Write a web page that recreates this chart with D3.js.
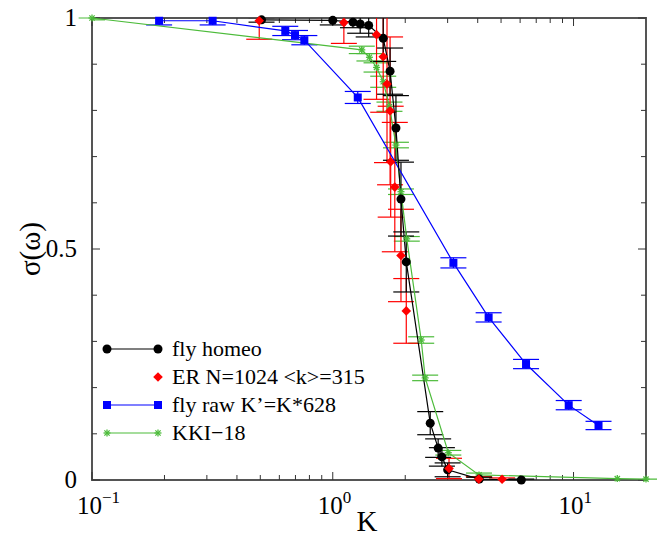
<!DOCTYPE html>
<html>
<head>
<meta charset="utf-8">
<script src="https://cdn.jsdelivr.net/npm/d3@7"></script>
<style>
  html, body { margin: 0; padding: 0; background: #fff; }
  svg text { font-family: "Times New Roman", Times, "Liberation Serif", "Nimbus Roman", "Noto Serif", "DejaVu Serif", FreeSerif, serif; }
</style>
</head>
<body>
<svg id="chart" width="657" height="538"></svg>
<script>
// ---- data ----
// fly homeo
const homeoK   = [0.506, 1.0, 1.213, 1.30, 1.41, 1.62, 1.73, 1.83, 1.92, 2.02, 2.54, 2.74, 2.84, 3.0, 4.06, 6.07];
const homeoS   = [0.996, 0.995, 0.991, 0.987, 0.984, 0.956, 0.885, 0.762, 0.608, 0.472, 0.123, 0.069, 0.05, 0.022, 0.002, 0.0];
const homeoErr = [0.005, 0.01, 0.012, 0.02, 0.025, 0.05, 0.05, 0.07, 0.08, 0.065, 0.025, 0.02, 0.02, 0.015, 0.004, 0.002];

// ER N=1024 <k>=315
const erK   = [0.495, 1.112, 1.52, 1.62, 1.68, 1.73, 1.74, 1.81, 1.92, 2.02, 3.04, 4.04, 5.05];
const erS   = [0.994, 0.99, 0.964, 0.916, 0.857, 0.799, 0.689, 0.634, 0.486, 0.366, 0.025, 0.002, 0.0015];
const erErr = [0.04, 0.045, 0.14, 0.12, 0.17, 0.16, 0.12, 0.14, 0.1, 0.07, 0.022, 0.005, 0.003];

// fly raw K'=K*628
const rawK   = [0.19, 0.317, 0.635, 0.697, 0.762, 1.27, 3.17, 4.44, 6.35, 9.55, 12.7];
const rawS   = [0.994, 0.994, 0.972, 0.963, 0.952, 0.828, 0.47, 0.352, 0.251, 0.162, 0.118];
const rawErr = [0.009, 0.009, 0.01, 0.01, 0.01, 0.013, 0.011, 0.01, 0.01, 0.01, 0.009];

// KKI-18
const kkiK   = [0.088, 0.1, 1.32, 1.42, 1.52, 1.62, 1.72, 1.83, 1.92, 2.03, 2.33, 2.42, 3.02, 4.05, 15.2, 20, 23];
const kkiS   = [1.0, 1.0, 0.931, 0.915, 0.893, 0.862, 0.808, 0.725, 0.624, 0.522, 0.303, 0.221, 0.059, 0.011, 0.003, 0.002, 0.002];
const kkiErr = [0, 0.004, 0.008, 0.008, 0.01, 0.012, 0.01, 0.006, 0.006, 0.005, 0.007, 0.006, 0.005, 0.004, 0, 0, 0];

// axes
const xDomain = [0.1, 20];
const yDomain = [0, 1];
const xMajor = [0.1, 1, 10];
const xMajorExp = ["\u22121", "0", "1"];
const yMajor = [0, 0.5, 1];
const yMajorLabels = ["0", "0.5", "1"];

const legendLabels = ["fly homeo", "ER N=1024 <k>=315", "fly raw K\u2019=K*628", "KKI\u221218"];

// ---- layout ----
const L = 92, R = 646, T = 18, B = 480;
const svg = d3.select("#chart");
const x = d3.scaleLog().domain(xDomain).range([L, R]);
const y = d3.scaleLinear().domain(yDomain).range([B, T]);

const BLACK = "#000000", RED = "#ff0000", BLUE = "#0000ff", GREEN = "#4cbb3a";
const zip = (ks, ss, es) => ks.map((k, i) => ({k, s: ss[i], e: es[i]}));

const homeo = zip(homeoK, homeoS, homeoErr);
const er = zip(erK, erS, erErr);
const raw = zip(rawK, rawS, rawErr);
const kki = zip(kkiK, kkiS, kkiErr);

const defs = svg.append("defs");
defs.append("clipPath").attr("id", "plotClip")
  .append("rect").attr("x", L).attr("y", T).attr("width", R - L).attr("height", B - T);
defs.append("clipPath").attr("id", "markClip")
  .append("rect").attr("x", L - 5).attr("y", 0).attr("width", R - L + 10).attr("height", 538);

// ---- frame & ticks ----
const frame = svg.append("g").attr("stroke", "#555").attr("fill", "none");
frame.append("rect").attr("x", L).attr("y", T).attr("width", R - L).attr("height", B - T)
  .attr("stroke-width", 2);

const xMinor = [];
for (let d = 0.1; d < 20; d *= 10) for (let m = 2; m <= 9; m++) if (d * m < 20) xMinor.push(d * m);
const tickG = svg.append("g").attr("stroke", "#333").attr("stroke-width", 1);
xMajor.forEach(v => {
  tickG.append("line").attr("x1", x(v)).attr("x2", x(v)).attr("y1", B).attr("y2", B - 8);
  tickG.append("line").attr("x1", x(v)).attr("x2", x(v)).attr("y1", T).attr("y2", T + 8);
});
xMinor.forEach(v => {
  tickG.append("line").attr("x1", x(v)).attr("x2", x(v)).attr("y1", B).attr("y2", B - 5);
  tickG.append("line").attr("x1", x(v)).attr("x2", x(v)).attr("y1", T).attr("y2", T + 5);
});
d3.range(0, 11).map(i => i / 10).forEach(v => {
  const len = (Math.abs(v * 2 - Math.round(v * 2)) < 1e-9) ? 8 : 5;
  tickG.append("line").attr("x1", L).attr("x2", L + len).attr("y1", y(v)).attr("y2", y(v));
  tickG.append("line").attr("x1", R).attr("x2", R - len).attr("y1", y(v)).attr("y2", y(v));
});

// tick labels
yMajor.forEach((v, i) => {
  svg.append("text").attr("x", 77).attr("y", y(v) + 8)
    .attr("text-anchor", "end").attr("font-size", 25).text(yMajorLabels[i]);
});
xMajor.forEach((v, i) => {
  const t = svg.append("text").attr("x", x(v) - 15).attr("y", 514).attr("font-size", 25);
  t.append("tspan").text("10");
  t.append("tspan").attr("dy", -11).attr("font-size", 17).text(xMajorExp[i]);
});

// axis titles
svg.append("text").attr("x", 367).attr("y", 531).attr("text-anchor", "middle")
  .attr("font-size", 29).text("K");
svg.append("text").attr("transform", "translate(40,249) rotate(-90)")
  .attr("text-anchor", "middle").attr("font-size", 29).text("\u03c3(\u03c9)");

// ---- series ----
const CAP = 13;
function errorBars(data, color) {
  const g = svg.append("g").attr("clip-path", "url(#plotClip)")
    .attr("stroke", color).attr("stroke-width", 1.2).attr("fill", "none");
  data.filter(d => d.e > 0).forEach(d => {
    const cx = x(d.k), y0 = y(d.s - d.e), y1 = y(d.s + d.e);
    g.append("line").attr("x1", cx).attr("x2", cx).attr("y1", y0).attr("y2", y1);
    g.append("line").attr("x1", cx - CAP).attr("x2", cx + CAP).attr("y1", y0).attr("y2", y0);
    g.append("line").attr("x1", cx - CAP).attr("x2", cx + CAP).attr("y1", y1).attr("y2", y1);
  });
}
function line(data, color) {
  svg.append("path").datum(data)
    .attr("fill", "none").attr("stroke", color).attr("stroke-width", 1.2)
    .attr("d", d3.line().x(d => x(d.k)).y(d => y(d.s)));
}
function marker(g, shape, color, cx, cy) {
  if (shape === "circle") {
    g.append("circle").attr("cx", cx).attr("cy", cy).attr("r", 4.5).attr("fill", color);
  } else if (shape === "diamond") {
    const s = 4.8;
    g.append("path").attr("d", `M${cx},${cy - s}L${cx + s},${cy}L${cx},${cy + s}L${cx - s},${cy}Z`).attr("fill", color);
  } else if (shape === "square") {
    g.append("rect").attr("x", cx - 4).attr("y", cy - 4).attr("width", 8).attr("height", 8).attr("fill", color);
  } else if (shape === "star") {
    const s = 3.5, gs = g.append("g").attr("stroke", color).attr("stroke-width", 1.3);
    gs.append("line").attr("x1", cx - s).attr("x2", cx + s).attr("y1", cy).attr("y2", cy);
    gs.append("line").attr("x1", cx).attr("x2", cx).attr("y1", cy - s).attr("y2", cy + s);
    gs.append("line").attr("x1", cx - s * 0.75).attr("x2", cx + s * 0.75).attr("y1", cy - s * 0.75).attr("y2", cy + s * 0.75);
    gs.append("line").attr("x1", cx - s * 0.75).attr("x2", cx + s * 0.75).attr("y1", cy + s * 0.75).attr("y2", cy - s * 0.75);
  }
}
function markers(data, shape, color) {
  const g = svg.append("g").attr("clip-path", "url(#markClip)");
  data.forEach(d => marker(g, shape, color, x(d.k), y(d.s)));
}

errorBars(kki, GREEN);
errorBars(raw, BLUE);
errorBars(er, RED);
errorBars(homeo, BLACK);

line(kki, GREEN);
line(raw, BLUE);
line(homeo, BLACK);

markers(kki, "star", GREEN);
markers(raw, "square", BLUE);
markers(homeo, "circle", BLACK);
markers(er, "diamond", RED);

// ---- legend ----
const legend = [
  {label: legendLabels[0], color: BLACK, shape: "circle", line: true},
  {label: legendLabels[1], color: RED, shape: "diamond", line: false},
  {label: legendLabels[2], color: BLUE, shape: "square", line: true},
  {label: legendLabels[3], color: GREEN, shape: "star", line: true}
];
const lg = svg.append("g");
legend.forEach((d, i) => {
  const ly = 349 + i * 28;
  if (d.line) {
    lg.append("line").attr("x1", 107).attr("x2", 158).attr("y1", ly).attr("y2", ly)
      .attr("stroke", d.color).attr("stroke-width", 1.2);
    marker(lg, d.shape, d.color, 107, ly);
  }
  marker(lg, d.shape, d.color, 158, ly);
  lg.append("text").attr("x", 172).attr("y", ly + 7).attr("font-size", 22).text(d.label);
});
</script>
</body>
</html>
